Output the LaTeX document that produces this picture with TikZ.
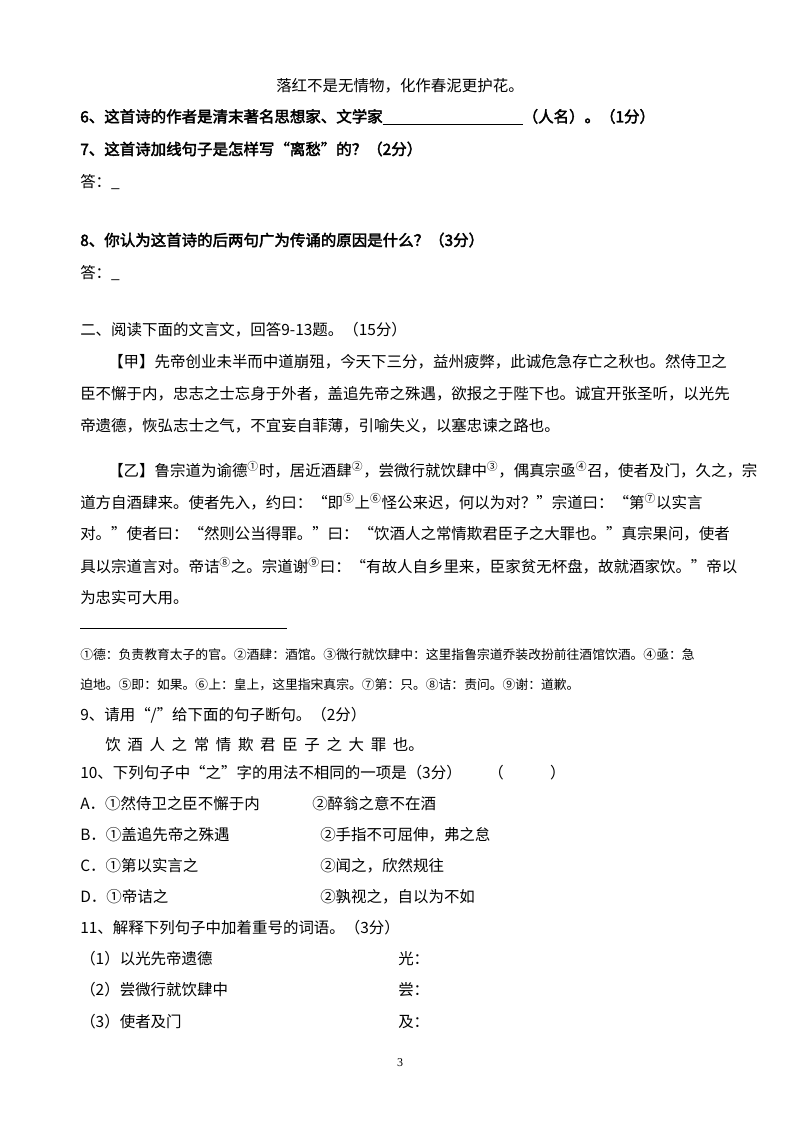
\documentclass[tikz,border=0pt]{standalone}
\usepackage{fontspec}
\setmainfont{Liberation Serif}
\newfontfamily\cjk[AutoFakeBold=2.5]{Noto Sans CJK SC}
\newcommand{\fnmk}[1]{\textsuperscript{#1}}
\begin{document}
\begin{tikzpicture}[x=0.75pt,y=-0.75pt,
  every node/.style={inner sep=0pt,anchor=west,font=\cjk\fontsize{11.6pt}{12pt}\selectfont},
  q/.style={font=\cjk\bfseries\fontsize{11.6pt}{12pt}\selectfont},
  fn/.style={font=\cjk\fontsize{9.6pt}{10pt}\selectfont}]
\fill[white] (0,0) rectangle (800,1132);
\useasboundingbox (0,0) rectangle (800,1132);
\node[anchor=center] (l0) at (400,86) {落红不是无情物，化作春泥更护花。};
\node[q] (q6) at (80,117) {6、这首诗的作者是清末著名思想家、文学家\underline{\hspace{105pt}}（人名）。（1分）};
\node[q] (q7) at (80,149) {7、这首诗加线句子是怎样写“离愁”的？（2分）};
\node (a7) at (80,182) {答：\_};
\node[q] (q8) at (80,240) {8、你认为这首诗的后两句广为传诵的原因是什么？（3分）};
\node (a8) at (80,273) {答：\_};
\node (s2) at (80,330) {二、阅读下面的文言文，回答9-13题。（15分）};
\node (j1) at (108,362) {【甲】先帝创业未半而中道崩殂，今天下三分，益州疲弊，此诚危急存亡之秋也。然侍卫之};
\node (j2) at (80,394) {臣不懈于内，忠志之士忘身于外者，盖追先帝之殊遇，欲报之于陛下也。诚宜开张圣听，以光先};
\node (j3) at (80,426) {帝遗德，恢弘志士之气，不宜妄自菲薄，引喻失义，以塞忠谏之路也。};
\node (y1) at (108,470) {【乙】鲁宗道为谕德\fnmk{①}时，居近酒肆\fnmk{②}，尝微行就饮肆中\fnmk{③}，偶真宗亟\fnmk{④}召，使者及门，久之，宗};
\node (y2) at (80,502) {道方自酒肆来。使者先入，约曰：“即\fnmk{⑤}上\fnmk{⑥}怪公来迟，何以为对？”宗道曰：“第\fnmk{⑦}以实言};
\node (y3) at (80,534) {对。”使者曰：“然则公当得罪。”曰：“饮酒人之常情欺君臣子之大罪也。”真宗果问，使者};
\node (y4) at (80,566) {具以宗道言对。帝诘\fnmk{⑧}之。宗道谢\fnmk{⑨}曰：“有故人自乡里来，臣家贫无杯盘，故就酒家饮。”帝以};
\node (y5) at (80,598) {为忠实可大用。};
\coordinate (r1) at (80,628); \coordinate (r2) at (287,628);
\draw[line width=0.6pt] (r1) -- (r2);
\node[fn] (f1) at (80,655) {①德：负责教育太子的官。②酒肆：酒馆。③微行就饮肆中：这里指鲁宗道乔装改扮前往酒馆饮酒。④亟：急};
\node[fn] (f2) at (80,685) {迫地。⑤即：如果。⑥上：皇上，这里指宋真宗。⑦第：只。⑧诘：责问。⑨谢：道歉。};
\node (q9) at (80,715) {9、请用“/”给下面的句子断句。（2分）};
\node (s9) at (105,745) {饮\hspace{5pt}酒\hspace{5pt}人\hspace{5pt}之\hspace{5pt}常\hspace{5pt}情\hspace{5pt}欺\hspace{5pt}君\hspace{5pt}臣\hspace{5pt}子\hspace{5pt}之\hspace{5pt}大\hspace{5pt}罪\hspace{5pt}也。};
\node (q10) at (80,773) {10、下列句子中“之”字的用法不相同的一项是（3分）};
\node (p10) at (488,773) {（\hspace{3em}）};
\node (A) at (80,804) {A．①然侍卫之臣不懈于内};
\node (A2) at (312,804) {②醉翁之意不在酒};
\node (B) at (80,835) {B．①盖追先帝之殊遇};
\node (B2) at (320,835) {②手指不可屈伸，弗之怠};
\node (C) at (80,866) {C．①第以实言之};
\node (C2) at (320,866) {②闻之，欣然规往};
\node (D) at (80,897) {D．①帝诘之};
\node (D2) at (320,897) {②孰视之，自以为不如};
\node (q11) at (80,928) {11、解释下列句子中加着重号的词语。（3分）};
\node (e1) at (80,959) {（1）以光先帝遗德};
\node (e1b) at (398,959) {光：};
\node (e2) at (80,990) {（2）尝微行就饮肆中};
\node (e2b) at (398,990) {尝：};
\node (e3) at (80,1022) {（3）使者及门};
\node (e3b) at (398,1022) {及：};
\node[anchor=center,font=\fontsize{9pt}{10pt}\selectfont] (pg) at (400,1063) {3};
\end{tikzpicture}
\end{document}
